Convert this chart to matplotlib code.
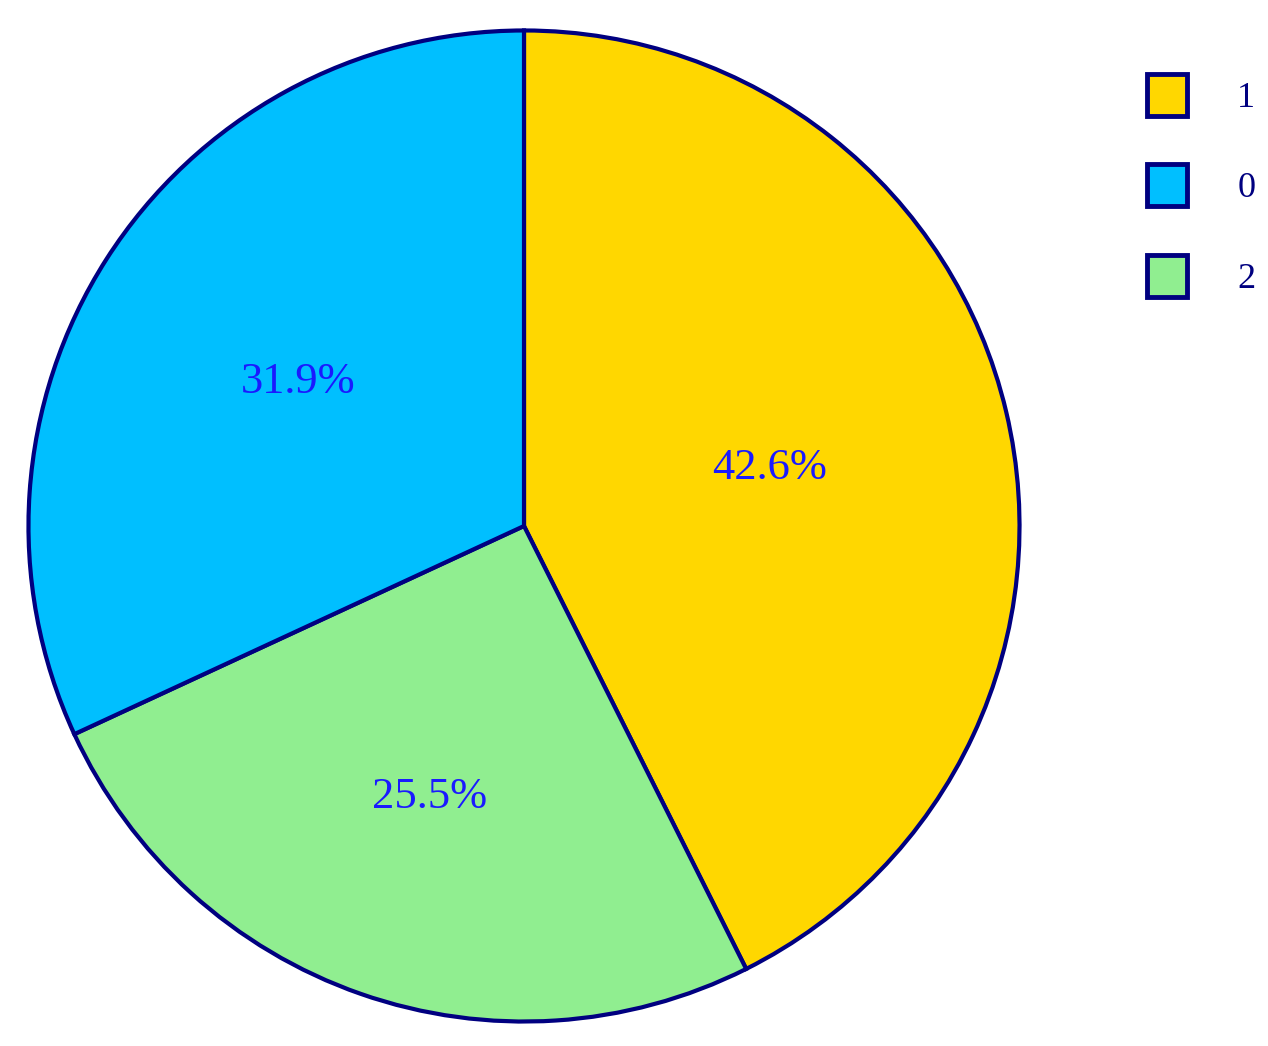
import numpy as np
import matplotlib.pyplot as plt
from matplotlib.patches import Patch

# wedge order, clockwise from 12 o'clock
labels = ["1", "2", "0"]
shares = [42.6, 25.5, 31.9]
colors = ["#FFD700", "#90EE90", "#00BFFF"]

# legend order as shown in the chart
legend_order = ["1", "0", "2"]

plt.rcParams['font.family'] = ['Liberation Serif', 'DejaVu Serif']

fig = plt.figure(figsize=(12.68, 10.46), dpi=100)
ax = fig.add_axes([26 / 1268, 22 / 1046, 996 / 1268, 996 / 1046])

wedges, texts, autotexts = ax.pie(
    shares, colors=colors, startangle=90, counterclock=False,
    autopct='%1.1f%%', pctdistance=0.54,
    wedgeprops=dict(edgecolor='#000080', linewidth=3),
    textprops=dict(color='#1a1aff', fontsize=32))
ax.set_xlim(-1.005, 1.005)
ax.set_ylim(-1.005, 1.005)
ax.set_aspect('equal')

# label radii differ a little per wedge in the original
label_r = [0.51, 0.58, 0.54]
for w, t, r in zip(wedges, autotexts, label_r):
    mid = np.deg2rad((w.theta1 + w.theta2) / 2)
    t.set_position((r * np.cos(mid), r * np.sin(mid)))

color_of = dict(zip(labels, colors))
handles = [Patch(facecolor=color_of[l], edgecolor='#000080', linewidth=3.5)
           for l in legend_order]
fig.legend(handles, legend_order, loc='upper left',
           bbox_to_anchor=(1118 / 1268, 1 - 45 / 1046),
           frameon=False, fontsize=26, labelcolor='#000080',
           handlelength=1.1, handleheight=1.4, labelspacing=1.35,
           handletextpad=1.4, borderpad=0.3)

fig.savefig('out.png', dpi=100)
